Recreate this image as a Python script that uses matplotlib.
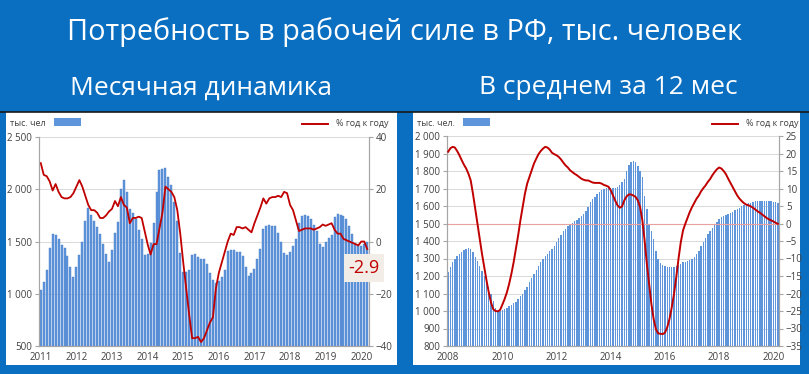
import matplotlib
matplotlib.use("Agg")
import matplotlib.pyplot as plt
from matplotlib.patches import Rectangle
from matplotlib.lines import Line2D
import numpy as np

plt.rcParams['font.family'] = ['Open Sans', 'DejaVu Sans']

# --- monthly data, Jan 2011 .. Mar 2020 (thousand people) ---
monthly_bars = [
    1040, 1110, 1230, 1440, 1570, 1560, 1520, 1470, 1440, 1360, 1260, 1160,  # 2011
    1260, 1370, 1500, 1700, 1820, 1750, 1700, 1640, 1570, 1480, 1380, 1300,  # 2012
    1420, 1580, 1690, 2000, 2090, 1970, 1810, 1770, 1720, 1610, 1520, 1370,  # 2013
    1380, 1490, 1680, 1970, 2180, 2190, 2200, 2120, 2040, 1880, 1700, 1390,  # 2014
    1210, 1210, 1230, 1370, 1380, 1350, 1330, 1330, 1280, 1200, 1130, 1100,  # 2015
    1120, 1160, 1230, 1410, 1420, 1420, 1400, 1400, 1360, 1260, 1170, 1200,  # 2016
    1240, 1330, 1430, 1620, 1650, 1660, 1650, 1650, 1580, 1500, 1390, 1370,  # 2017
    1400, 1460, 1520, 1680, 1740, 1750, 1740, 1720, 1660, 1600, 1480, 1450,  # 2018
    1500, 1530, 1560, 1730, 1760, 1750, 1740, 1720, 1650, 1570, 1490, 1460,  # 2019
    1460, 1480, 1500,                                                        # 2020
]
monthly_yoy = [
    30, 25.5, 25, 23, 19.5, 22, 19, 17, 16.5, 16.5, 17, 18.5,
    21, 23.5, 21, 17.5, 14, 12, 12, 11, 9, 9, 10, 11.5,
    12.5, 15.5, 13.5, 17, 14, 13, 7, 9, 9, 9.5, 9, 4,
    -1, -5, -1, -1, 5, 11, 21, 20, 19, 17, 12, 3,
    -8, -18, -28, -37, -37, -36.5, -38.5, -37, -34, -31, -29, -18,
    -12, -8, -4, 0, 3, 2.5, 5.5, 5.5, 5, 5.5, 4.5, 3.5,
    7, 10, 13, 16.5, 14.5, 16.5, 17, 17, 17.5, 17, 19, 18.5,
    14, 12, 8, 4, 4.5, 5, 5, 5, 4.5, 5, 5.5, 6.5,
    6, 6.5, 7, 4.5, 3, 3, 1, 0.5, 0, -0.5, -1, -1.5,
    0, 0, -2.9,
]
monthly_years = ['2011', '2012', '2013', '2014', '2015', '2016', '2017', '2018', '2019', '2020']

# --- 12-month average, Jan 2008 .. Mar 2020 ---
avg_bars = [
    1221, 1249, 1278, 1297, 1312, 1326, 1335, 1349, 1356, 1360, 1354, 1335,  # 2008
    1310, 1284, 1259, 1230, 1201, 1169, 1135, 1096, 1058, 1020, 1001, 1001,  # 2009
    1005, 1010, 1020, 1026, 1035, 1043, 1054, 1068, 1083, 1100, 1119, 1138,  # 2010
    1163, 1186, 1211, 1234, 1259, 1278, 1297, 1312, 1326, 1341, 1354, 1374,  # 2011
    1393, 1418, 1437, 1456, 1469, 1484, 1494, 1502, 1513, 1521, 1532, 1542,  # 2012
    1555, 1574, 1593, 1622, 1641, 1654, 1666, 1680, 1689, 1699, 1704, 1704,  # 2013
    1705, 1704, 1703, 1710, 1718, 1735, 1756, 1800, 1835, 1850, 1857, 1852,  # 2014
    1830, 1800, 1765, 1660, 1585, 1500, 1455, 1410, 1345, 1300, 1275, 1262,  # 2015
    1255, 1250, 1250, 1250, 1252, 1258, 1265, 1270, 1278, 1282, 1287, 1292,  # 2016
    1300, 1310, 1325, 1345, 1370, 1395, 1420, 1440, 1455, 1475, 1490, 1508,  # 2017
    1525, 1535, 1542, 1548, 1555, 1562, 1568, 1575, 1582, 1590, 1598, 1605,  # 2018
    1610, 1615, 1620, 1625, 1627, 1628, 1628, 1628, 1627, 1627, 1626, 1626,  # 2019
    1625, 1624, 1620,                                                        # 2020
]
avg_yoy = [
    20.5, 21.5, 21.9, 21.7, 20.7, 19.5, 18.1, 16.8, 15.7, 14.2, 12.3, 8.5,
    4.2, -0.1, -4.4, -8.7, -12.5, -16.3, -19.7, -22.6, -24.5, -25.0, -25.1, -24.7,
    -23.2, -21.6, -19.7, -17.3, -14.4, -11.1, -7.3, -3.4, 0.9, 4.7, 8.5, 11.4,
    13.3, 15.2, 17.1, 18.5, 19.8, 20.7, 21.4, 21.9, 21.7, 21.1, 20.2, 19.8,
    19.5, 19.0, 18.3, 17.4, 16.6, 16.0, 15.2, 14.7, 14.2, 13.8, 13.3, 12.8,
    12.5, 12.3, 12.3, 12.0, 11.7, 11.6, 11.6, 11.6, 11.4, 11.0, 10.8, 10.5,
    9.5, 8.0, 6.5, 5.2, 4.5, 4.9, 6.6, 7.7, 8.3, 8.3, 8.0, 7.6,
    6.6, 4.7, 0.9, -4.9, -11.6, -17.3, -23.0, -27.3, -30.2, -31.4, -31.5, -31.6,
    -31.2, -29.7, -27.3, -24.0, -20.2, -15.4, -10.1, -5.4, -2.0, -0.1, 1.6, 3.3,
    4.7, 5.9, 7.1, 8.0, 9.2, 10.1, 10.9, 11.9, 12.7, 13.8, 14.7, 15.5,
    16.0, 15.7, 15.0, 14.1, 12.8, 11.6, 10.4, 9.2, 8.0, 7.1, 6.4, 5.8,
    5.4, 5.2, 4.9, 4.5, 4.0, 3.5, 3.1, 2.6, 2.1, 1.6, 1.2, 0.9,
    0.6, 0.2, -0.1,
]
avg_years = ['2008', '2010', '2012', '2014', '2016', '2018', '2020']

BG = '#0b6fc1'
BAR = '#5f95db'
RED = '#c00000'
TXT = '#404040'
GRID = '#d9d9d9'
W, H = 809, 374


def fx(px):
    return px / W


def fy(py):
    return 1 - py / H


fig = plt.figure(figsize=(W / 100, H / 100), dpi=100, facecolor=BG)

# white panels (behind the axes)
for x0, x1 in [(6, 397), (413, 800)]:
    fig.patches.append(Rectangle((fx(x0), fy(365)), fx(x1 - x0), (365 - 112) / H,
                                 transform=fig.transFigure, facecolor='white',
                                 edgecolor='none', zorder=-1))
fig.add_artist(Line2D([fx(0), fx(809)], [fy(112), fy(112)], color='#1a1a1a', lw=1.2,
                      zorder=-0.5))

fig.text(0.5, fy(32), 'Потребность в рабочей силе в РФ, тыс. человек',
         color='white', fontsize=20.8, ha='center', va='center')
fig.text(fx(201), fy(88), 'Месячная динамика', color='white', fontsize=19,
         ha='center', va='center')
fig.text(fx(608), fy(88), 'В среднем за 12 мес', color='white', fontsize=19,
         ha='center', va='center')


def style_axes(ax, ax2):
    ax.set_facecolor('none')
    ax.spines['top'].set_visible(False)
    ax2.spines['top'].set_visible(False)
    for s in ['left', 'bottom', 'right']:
        ax.spines[s].set_color('#a6a6a6')
        ax2.spines[s].set_color('#a6a6a6')
    ax.tick_params(axis='y', labelsize=7, colors=TXT, length=3, color='#a6a6a6', pad=2)
    ax2.tick_params(axis='y', labelsize=7, colors=TXT, length=3, color='#a6a6a6', pad=2)
    ax.tick_params(axis='x', labelsize=7, colors=TXT, length=0, pad=4)
    ax.yaxis.grid(True, color=GRID, lw=0.7)
    ax.set_axisbelow(True)


def fmt(v):
    return f'{int(v):,}'.replace(',', '\u00a0')


# ---------- left chart: monthly ----------
ax = fig.add_axes([fx(39), fy(346), fx(330), (346 - 137) / H])
ax2 = ax.twinx()
xm = np.arange(len(monthly_bars))
ax.bar(xm, np.array(monthly_bars) - 500, bottom=500, width=0.68, color=BAR,
       edgecolor='#4a7fc8', linewidth=0.3)
ax2.plot(xm, monthly_yoy, color=RED, lw=1.3)
ax.set_xlim(-0.6, len(monthly_bars) - 0.4)
ax.set_ylim(500, 2500)
ax2.set_ylim(-40, 40)
ax.set_yticks([500, 1000, 1500, 2000, 2500])
ax.set_yticklabels([fmt(v) for v in [500, 1000, 1500, 2000, 2500]])
ax2.set_yticks([-40, -20, 0, 20, 40])
ax.set_xticks(np.arange(0, len(monthly_bars), 12))
ax.set_xticklabels(monthly_years)
style_axes(ax, ax2)

fig.text(fx(364), fy(268), f'{monthly_yoy[-1]:.1f}', color=RED, fontsize=13,
         ha='center', va='center', zorder=5,
         bbox=dict(boxstyle='square,pad=0.25', facecolor='#f2ede6', edgecolor='none'))

# ---------- right chart: 12-month average ----------
bx = fig.add_axes([fx(447), fy(346), fx(332), (346 - 136) / H])
bx2 = bx.twinx()
xa = np.arange(len(avg_bars))
bx.bar(xa, np.array(avg_bars) - 800, bottom=800, width=0.62, color=BAR,
       edgecolor='none')
bx2.plot(xa, avg_yoy, color=RED, lw=1.4, zorder=3)
bx2.axhline(0, color='#e8a0a0', lw=0.8, zorder=1)
bx.set_xlim(-0.5, len(avg_bars) - 0.5)
bx.set_ylim(800, 2000)
bx2.set_ylim(-35, 25)
bx.set_yticks(np.arange(800, 2001, 100))
bx.set_yticklabels([fmt(v) for v in np.arange(800, 2001, 100)])
bx2.set_yticks(np.arange(-35, 26, 5))
bx.set_xticks(np.arange(0, len(avg_bars), 24))
bx.set_xticklabels(avg_years)
style_axes(bx, bx2)

# ---------- legend-like labels ----------
for tx, px0, rx0, tt in [(10, 54, 302, 'тыс. чел'), (417, 463, 712, 'тыс. чел.')]:
    fig.text(fx(tx), fy(123), tt, color=TXT, fontsize=6.5, ha='left', va='center')
    fig.patches.append(Rectangle((fx(px0), fy(126)), fx(27), 8 / H,
                                 transform=fig.transFigure, facecolor=BAR,
                                 edgecolor='none'))
    fig.add_artist(Line2D([fx(rx0), fx(rx0 + 26)], [fy(124), fy(124)], color=RED, lw=1.4))
    fig.text(fx(rx0 + 86), fy(123), '% год к году', color=TXT, fontsize=6.5,
             ha='right', va='center')

fig.savefig('out.png', dpi=100, facecolor=BG)
